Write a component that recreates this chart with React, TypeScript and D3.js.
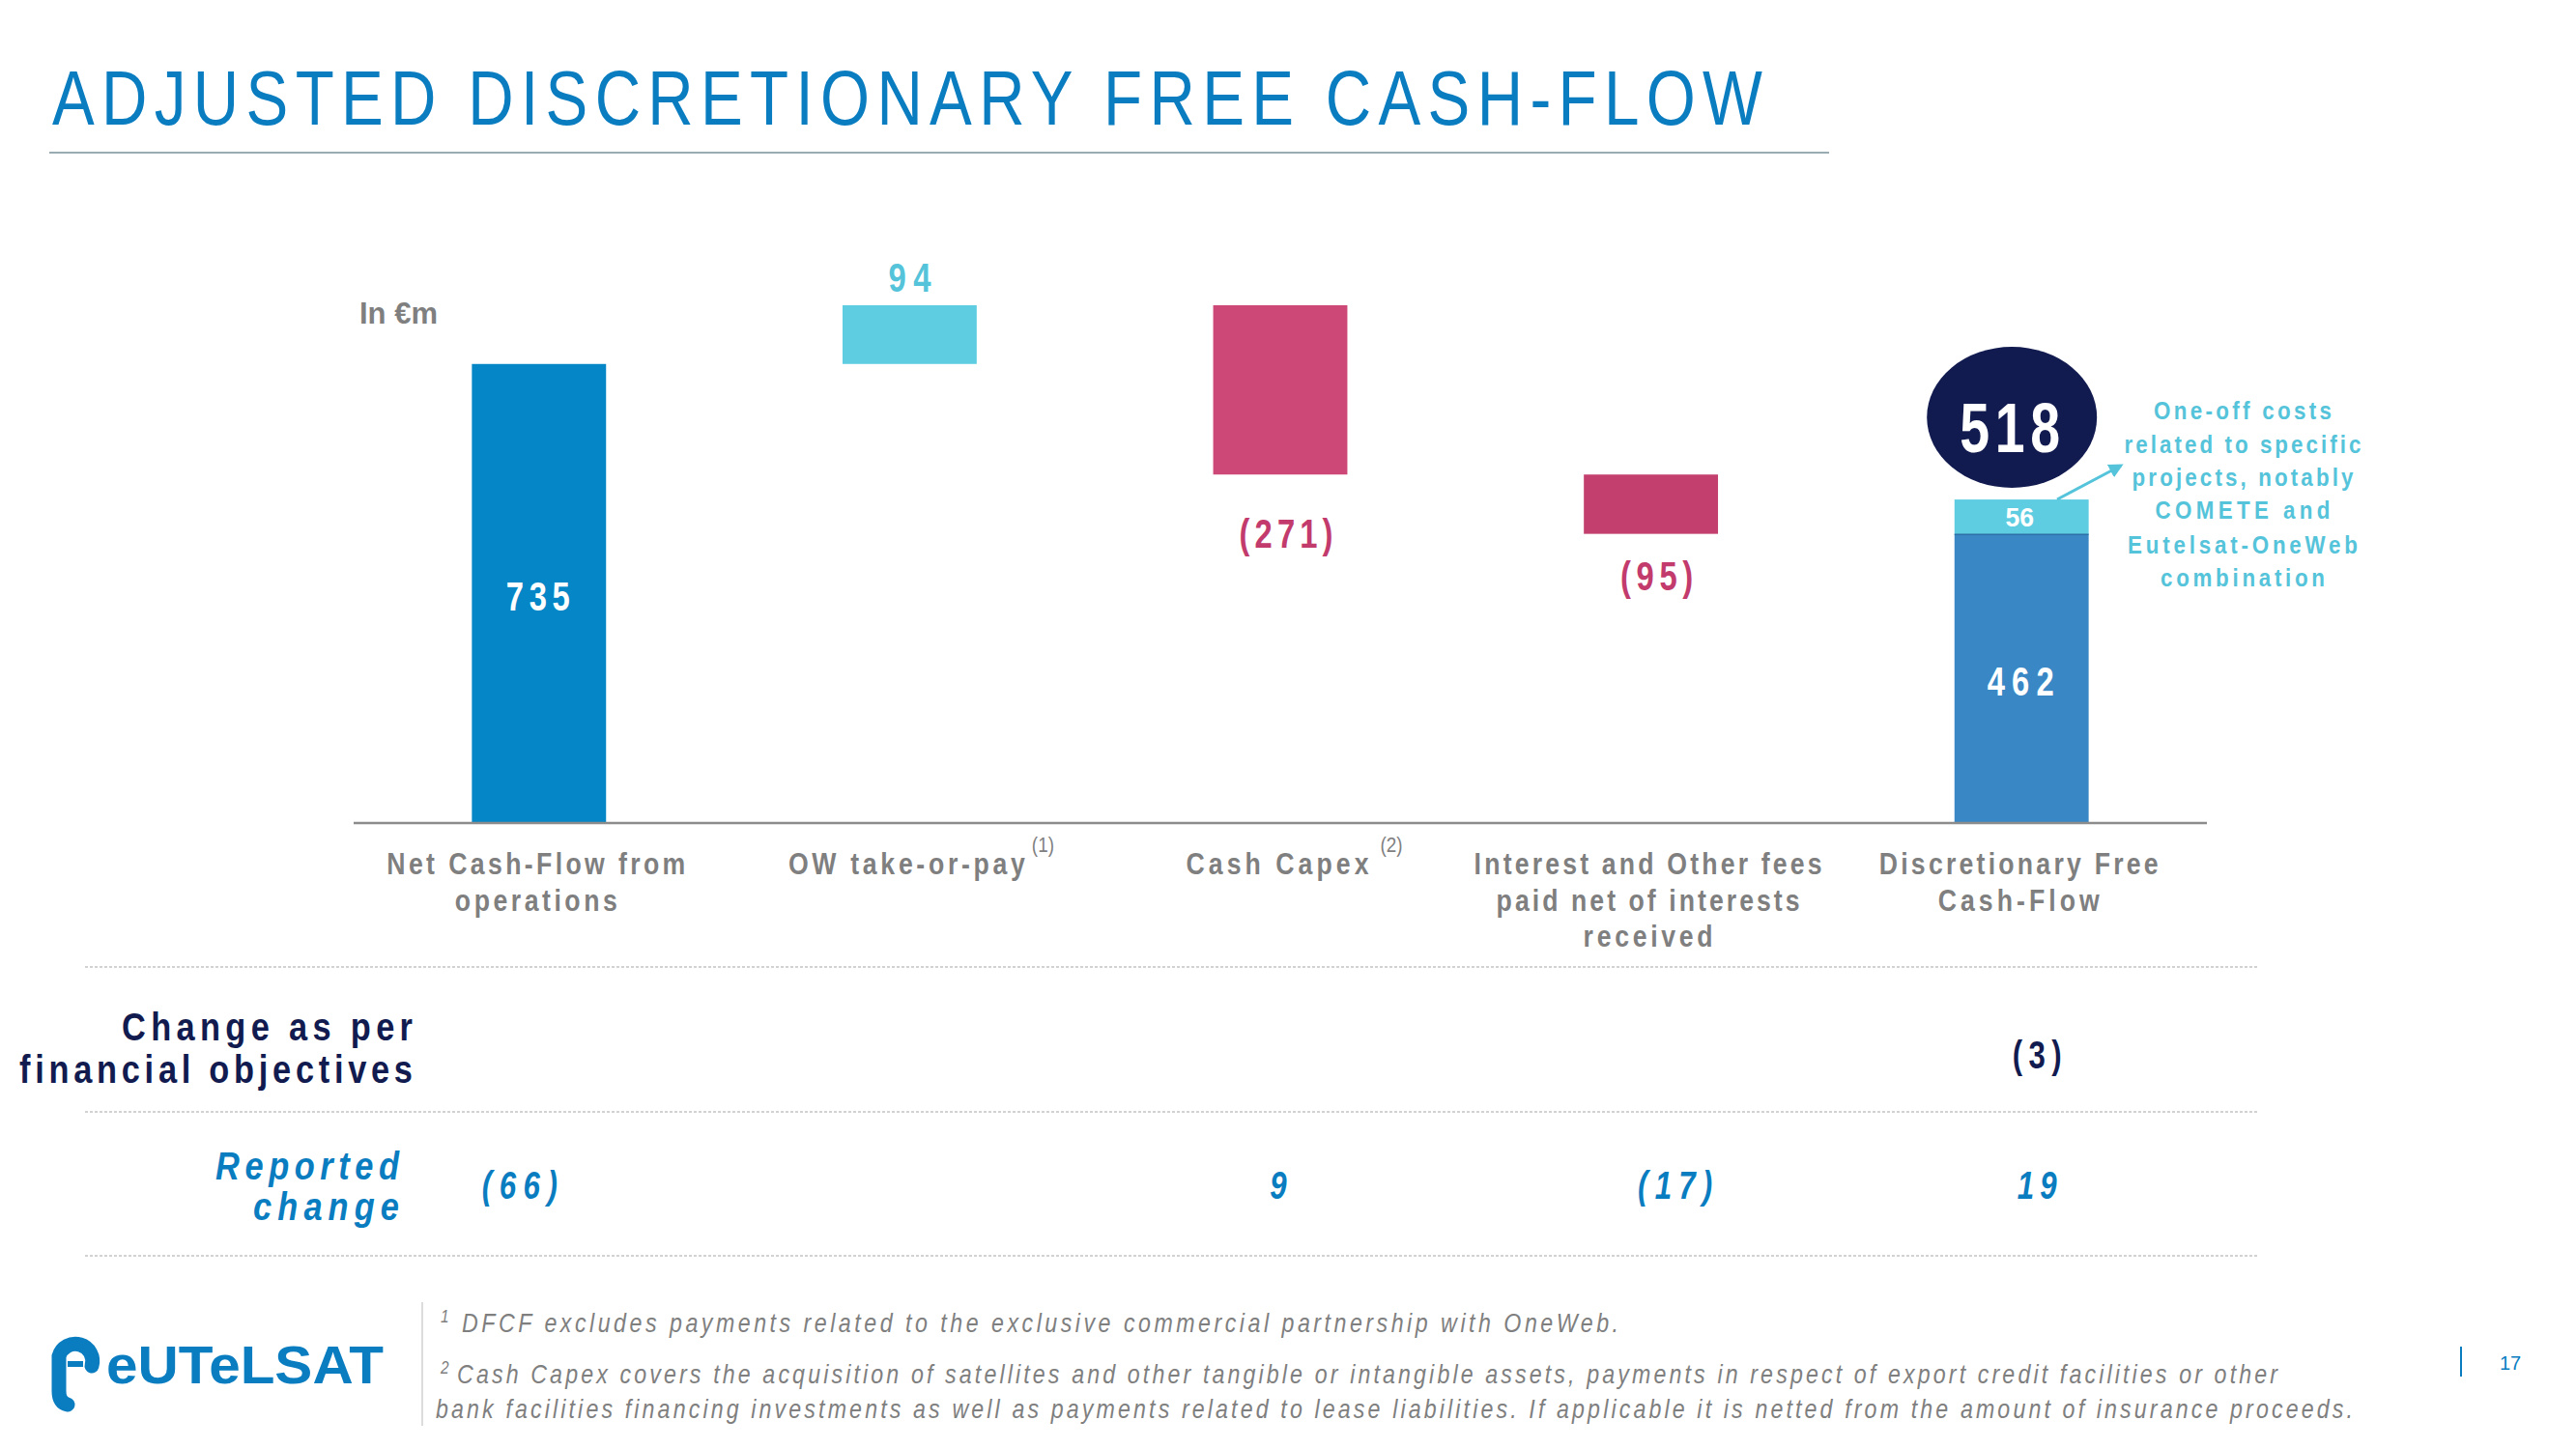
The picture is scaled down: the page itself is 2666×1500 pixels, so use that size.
import React from "react";
import * as d3 from "d3";

// ---------- data ----------
const categoryLines: string[][] = [
  ["Net Cash-Flow from", "operations"],
  ["OW take-or-pay"],
  ["Cash Capex"],
  ["Interest and Other fees", "paid net of interests", "received"],
  ["Discretionary Free", "Cash-Flow"],
];
const categoryKeys = ["ncf", "ow", "capex", "interest", "dfcf"];
const footnoteMarks = ["", "(1)", "(2)", "", ""];
const values = [735, 94, -271, -95, 462];
const kinds = ["total", "delta", "delta", "delta", "total"];
const valueLabels = ["735", "94", "(271)", "(95)", "462"];
const oneOffCosts = 56;
const adjustedDFCF = 518;
const oneOffNote = [
  "One-off costs",
  "related to specific",
  "projects, notably",
  "COMETE and",
  "Eutelsat-OneWeb",
  "combination",
];
const changeObjectives = ["", "", "", "", "(3)"];
const reportedChange = ["(66)", "", "9", "(17)", "19"];
const footnotes = [
  { mark: "1", text: "DFCF excludes payments related to the exclusive commercial partnership with OneWeb." },
  { mark: "2", text: "Cash Capex covers the acquisition of satellites and other tangible or intangible assets, payments in respect of export credit facilities or other" },
  { mark: "", text: "bank facilities financing investments as well as payments related to lease liabilities. If applicable it is netted from the amount of insurance proceeds." },
];

// ---------- style ----------
const SANS = "'Liberation Sans',Arial,sans-serif";
const BLUE = "#0a7dc1";
const NAVY = "#121b4f";
const GREY = "#7f7f7f";
const CYAN = "#55c4da";
const barColors = ["#0586c6", "#5ecde1", "#cd4876", "#c3406e", "#3a87c5"];
const labelColors = ["#ffffff", "#55c4da", "#c23b6c", "#c23b6c", "#ffffff"];
const SX = 0.86;
const SXNUM = 0.78;

type NTProps = {
  x: number; y: number; w?: number; anchor?: string; size: number; weight?: string;
  italic?: boolean; fill: string; ls?: number; sx?: number; children: React.ReactNode;
};
function NT({ x, y, w, anchor = "start", size, weight = "normal", italic, fill, ls, sx = SX, children }: NTProps) {
  return (
    <text transform={`translate(${x},${y}) scale(${sx},1)`} x={0} y={0} textAnchor={anchor}
      fontFamily={SANS} fontSize={size} fontWeight={weight} fontStyle={italic ? "italic" : "normal"} fill={fill}
      textLength={w ? w / sx : undefined} lengthAdjust={w ? "spacing" : undefined} letterSpacing={ls}>
      {children}
    </text>
  );
}

export default function App() {
  const W = 2666, H = 1500;
  const x = d3.scaleBand<string>().domain(categoryKeys).range([366, 2284]).paddingInner(0.638).paddingOuter(0.319);
  const y = d3.scaleLinear().domain([0, 829]).range([852, 316]);

  let running = 0;
  const bars = values.map((v, i) => {
    let start: number, end: number;
    if (kinds[i] === "total") { start = 0; end = v; running = v; }
    else { start = running; end = running + v; running = end; }
    return { key: categoryKeys[i], start, end, v, i };
  });

  const cx = (k: string) => (x(k) as number) + x.bandwidth() / 2;
  const last = bars[4];

  const catWidths: Record<string, number> = {
    "Net Cash-Flow from": 309, operations: 168, "OW take-or-pay": 245, "Cash Capex": 189,
    "Interest and Other fees": 360, "paid net of interests": 314, received: 134,
    "Discretionary Free": 289, "Cash-Flow": 167,
  };
  const valueWidths = [66, 44, 97, 75, 69];
  const valueDx = [-1, 0, 6, 6, -1];
  const negOffset: Record<number, number> = { 2: 76, 3: 58 };
  const noteWidths = [184, 245, 229, 181, 238, 170];
  const noteBase = [434, 469, 503, 537, 573, 607];
  const footWidths = [1197, 1884, 1984];
  const footBase = [1379, 1432, 1468];
  const reportedWidths = [78, 0, 0, 77, 41];
  const reportedDx = [-20, 0, -2, 25, 16];

  const valueY = (b: any) => {
    if (b.i === 0) return (y(b.start) + y(b.end)) / 2 + 18;
    if (b.i === 4) return (y(0) + y(b.end)) / 2 + 17;
    if (b.v > 0) return y(b.end) - 14;
    return y(b.end) + negOffset[b.i];
  };
  const ellipseCx = cx(last.key) - 10;
  const topAdj = y(last.end + oneOffCosts);

  return (
    <svg width={W} height={H} viewBox={`0 0 ${W} ${H}`} style={{ position: "absolute", left: 0, top: 0, background: "#fff" }}>
      <rect width={W} height={H} fill="#ffffff" />
      {/* title */}
      <NT x={54} y={129} w={1770} size={80} fill={BLUE} sx={0.82}>ADJUSTED DISCRETIONARY FREE CASH-FLOW</NT>
      <line x1={51} x2={1893} y1={158} y2={158} stroke="#9aacb1" strokeWidth={2} />

      {/* unit */}
      <NT x={372} y={335} size={31} weight="bold" fill={GREY} sx={1}>In €m</NT>

      {/* bars */}
      {bars.map((b) => (
        <rect key={b.key} x={x(b.key)} width={x.bandwidth()} y={y(Math.max(b.start, b.end))}
          height={Math.abs(y(b.start) - y(b.end))} fill={barColors[b.i]} />
      ))}
      <rect x={x(last.key)} width={x.bandwidth()} y={topAdj} height={y(last.end) - topAdj} fill={barColors[1]} />
      <line x1={x(last.key)} x2={(x(last.key) as number) + x.bandwidth()} y1={y(last.end)} y2={y(last.end)} stroke="#2f6fa8" strokeWidth={1.5} />

      {/* axis */}
      <line x1={366} x2={2284} y1={y(0)} y2={y(0)} stroke="#8c8c8c" strokeWidth={2.5} />

      {/* value labels */}
      {bars.map((b) => (
        <NT key={b.key} x={cx(b.key) + valueDx[b.i]} y={valueY(b)} anchor="middle" w={valueWidths[b.i]}
          size={42} weight="bold" fill={labelColors[b.i]} sx={SXNUM}>{valueLabels[b.i]}</NT>
      ))}
      <NT x={cx(last.key) - 2} y={(topAdj + y(last.end)) / 2 + 10} anchor="middle" size={28} sx={0.95}
        weight="bold" fill="#ffffff">{oneOffCosts}</NT>

      {/* 518 bubble */}
      <ellipse cx={ellipseCx} cy={432} rx={88} ry={73} fill={NAVY} />
      <NT x={ellipseCx - 2} y={468} anchor="middle" w={104} size={73} weight="bold" fill="#ffffff" sx={0.76}>{adjustedDFCF}</NT>

      {/* note and arrow */}
      <defs>
        <marker id="ah" viewBox="0 0 10 10" refX={8} refY={5} markerWidth={5} markerHeight={5} orient="auto">
          <path d="M0,0 L10,5 L0,10 z" fill={CYAN} />
        </marker>
      </defs>
      <line x1={2129} y1={517} x2={2195} y2={482} stroke={CYAN} strokeWidth={3} markerEnd="url(#ah)" />
      {oneOffNote.map((t, i) => (
        <NT key={t} x={2321} y={noteBase[i]} anchor="middle" w={noteWidths[i]} size={26} weight="bold" fill={CYAN}>{t}</NT>
      ))}

      {/* category labels */}
      {categoryLines.map((lines, i) => (
        <g key={categoryKeys[i]}>
          {lines.map((t, j) => (
            <NT key={t} x={cx(categoryKeys[i]) - 3} y={905 + j * 37.5} anchor="middle" w={catWidths[t]}
              size={31} weight="bold" fill={GREY}>{t}</NT>
          ))}
          {footnoteMarks[i] && (
            <NT x={cx(categoryKeys[i]) + (i === 1 ? 138 : 115)} y={882} anchor="middle" size={22} fill={GREY}>
              {footnoteMarks[i]}
            </NT>
          )}
        </g>
      ))}

      {/* separators */}
      {[1001, 1151, 1300].map((yy) => (
        <line key={yy} x1={88} x2={2338} y1={yy} y2={yy} stroke="#d2d2d2" strokeWidth={2} strokeDasharray="3 2" />
      ))}

      {/* change rows */}
      <NT x={427} y={1077} anchor="end" w={301} size={40} weight="bold" fill={NAVY}>Change as per</NT>
      <NT x={427} y={1121} anchor="end" w={407} size={40} weight="bold" fill={NAVY}>financial objectives</NT>
      {changeObjectives.map((t, i) => t && (
        <NT key={"co" + i} x={cx(categoryKeys[i]) + 16} y={1106} anchor="middle" w={51} size={40}
          weight="bold" fill={NAVY} sx={SXNUM}>{t}</NT>
      ))}
      <NT x={413} y={1221} anchor="end" w={190} size={40} weight="bold" italic fill={BLUE}>Reported</NT>
      <NT x={413} y={1263} anchor="end" w={151} size={40} weight="bold" italic fill={BLUE}>change</NT>
      {reportedChange.map((t, i) => t && (
        <NT key={"rc" + i} x={cx(categoryKeys[i]) + reportedDx[i]} y={1241} anchor="middle"
          w={reportedWidths[i] || undefined} size={40} weight="bold" italic fill={BLUE} sx={SXNUM}>{t}</NT>
      ))}

      {/* footer */}
      <line x1={437} x2={437} y1={1348} y2={1476} stroke="#d0d0d0" strokeWidth={1.5} />
      {footnotes.map((f, i) => (
        <g key={i}>
          {f.mark && <NT x={456} y={footBase[i] - 10} size={18} italic fill={GREY}>{f.mark}</NT>}
          <NT x={f.mark ? (i === 0 ? 478 : 473) : 451} y={footBase[i]} w={footWidths[i]} size={27} italic fill={GREY}>
            {f.text}
          </NT>
        </g>
      ))}
      <line x1={2547} x2={2547} y1={1394} y2={1425} stroke={BLUE} strokeWidth={2} />
      <text x={2598} y={1418} textAnchor="middle" fontFamily={SANS} fontSize={20} fill={BLUE}>17</text>

      {/* logo */}
      <g>
        <path d="M95,1414 A17,17 0 1 0 61,1404 L61,1440 Q61,1452 70,1454" fill="none" stroke={BLUE} strokeWidth={15} strokeLinecap="round" />
        <path d="M70,1412 L86,1412" stroke={BLUE} strokeWidth={6} />
        <text x={110} y={1432} fontFamily={SANS} fontWeight="bold" fontSize={56} fill={BLUE}
          textLength={287} lengthAdjust="spacingAndGlyphs">eUTeLSAT</text>
      </g>
    </svg>
  );
}
